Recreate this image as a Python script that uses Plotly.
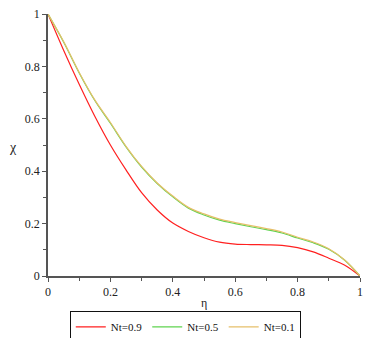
import plotly.graph_objects as go

eta = [0.0, 0.05, 0.1, 0.15, 0.2, 0.25, 0.3, 0.35, 0.4, 0.45, 0.5,
       0.55, 0.6, 0.65, 0.7, 0.75, 0.8, 0.85, 0.9, 0.95, 1.0]
chi_nt09 = [1.0, 0.862, 0.732, 0.610, 0.500, 0.405, 0.318, 0.252, 0.202, 0.170, 0.146,
            0.129, 0.122, 0.120, 0.119, 0.117, 0.108, 0.092, 0.068, 0.042, 0.0]
chi_nt05 = [1.0, 0.893, 0.775, 0.670, 0.583, 0.493, 0.416, 0.353, 0.302, 0.259, 0.233,
            0.213, 0.200, 0.188, 0.177, 0.164, 0.145, 0.127, 0.102, 0.061, 0.0]
chi_nt01 = [1.0, 0.895, 0.777, 0.672, 0.586, 0.495, 0.418, 0.355, 0.305, 0.262, 0.237,
            0.217, 0.204, 0.192, 0.181, 0.168, 0.148, 0.130, 0.104, 0.062, 0.0]
names = ["Nt=0.9", "Nt=0.5", "Nt=0.1"]
colors = ["#ff2020", "#5fd34f", "#e6bf6a"]

fig = go.Figure()
for name, ys, c in zip(names, [chi_nt09, chi_nt05, chi_nt01], colors):
    fig.add_trace(go.Scatter(x=eta, y=ys, mode="lines", name=name,
                             line=dict(color=c, width=1.2, shape="spline", smoothing=1.0)))

font = dict(family="'Liberation Serif', 'Times New Roman', serif", size=12, color="#222")
axis_common = dict(showgrid=False, zeroline=False, showline=True, linecolor="#555",
                   linewidth=1.5, ticks="outside", ticklen=4, tickcolor="#555",
                   tickfont=font, minor=dict(ticks="outside", ticklen=3, tickcolor="#555", dtick=0.1))
fig.update_xaxes(range=[0, 1], tickvals=[0, 0.2, 0.4, 0.6, 0.8, 1],
                 ticktext=["0", "0.2", "0.4", "0.6", "0.8", "1"], **axis_common)
fig.update_yaxes(range=[0, 1], tickvals=[0, 0.2, 0.4, 0.6, 0.8, 1],
                 ticktext=["0", "0.2", "0.4", "0.6", "0.8", "1"], **axis_common)

fig.add_annotation(text="η", xref="paper", yref="paper", x=0.5, y=-0.103,
                   showarrow=False, font=font, xanchor="center", yanchor="middle")
fig.add_annotation(text="χ", xref="paper", yref="paper", x=-0.112, y=0.49,
                   showarrow=False, font=dict(family=font["family"], size=14, color="#222"),
                   xanchor="center", yanchor="middle")

fig.update_layout(
    width=370, height=338,
    margin=dict(l=48, r=10, t=14, b=62, autoexpand=False),
    paper_bgcolor="white", plot_bgcolor="white",
    font=font,
    showlegend=True,
    legend=dict(orientation="h", x=0.44, xanchor="center", y=-0.135, yanchor="top",
                bordercolor="#111", borderwidth=1,
                font=dict(family=font["family"], size=11, color="#111"),
                itemwidth=30, tracegroupgap=0),
)
fig.write_html("out.html", config={"displayModeBar": False},
               post_script="document.body.style.margin='0';")
